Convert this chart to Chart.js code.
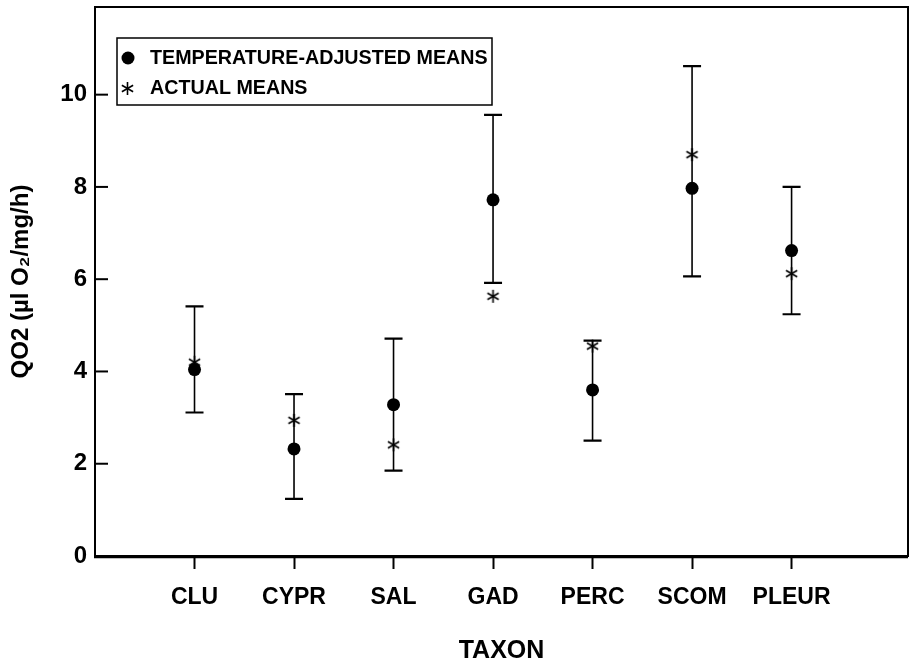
<!DOCTYPE html>
<html lang="en">
<head>
<meta charset="UTF-8" />
<title>QO2 by taxon</title>
<script src="https://cdn.jsdelivr.net/npm/chart.js"></script>
<style>
    html, body { margin: 0; padding: 0; background: #fff; }
    .chart-box { width: 910px; height: 663px; position: relative; }
</style>
</head>
<body>
<div class="chart-box">
    <canvas id="qo2Chart"></canvas>
</div>
<script>
// taxa along the x axis
const taxa = ['CLU', 'CYPR', 'SAL', 'GAD', 'PERC', 'SCOM', 'PLEUR'];
// temperature-adjusted means with their error bar limits
const adjustedMeans = [4.04, 2.32, 3.28, 7.72, 3.60, 7.97, 6.62];
const barLow  = [3.11, 1.24, 1.85, 5.92, 2.50, 6.06, 5.24];
const barHigh = [5.41, 3.51, 4.71, 9.56, 4.67, 10.62, 8.00];
// raw (actual) means
const actualMeans = [4.20, 2.94, 2.41, 5.63, 4.55, 8.70, 6.12];
const yTicks = [0, 2, 4, 6, 8, 10];

const FONT = '"Liberation Sans", Arial, Helvetica, sans-serif';

// six-armed asterisk used for the actual means
function makeAsterisk(size, lw) {
    const c = document.createElement('canvas');
    c.width = size; c.height = size;
    const g = c.getContext('2d');
    const r = size / 2 - 1;
    g.strokeStyle = '#000';
    g.lineWidth = lw;
    g.translate(size / 2, size / 2);
    [90, 30, 150].forEach(a => {
        const t = a * Math.PI / 180;
        g.beginPath();
        g.moveTo(-r * Math.cos(t), -r * Math.sin(t));
        g.lineTo(r * Math.cos(t), r * Math.sin(t));
        g.stroke();
    });
    return c;
}
const asterisk = makeAsterisk(15, 1.6);

const points = (vals) => vals.map((v, i) => ({ x: i + 1, y: v }));

const errorBars = {
    id: 'errorBars',
    beforeDatasetsDraw(chart) {
        const { ctx, scales: { x, y } } = chart;
        ctx.save();
        ctx.strokeStyle = '#000';
        taxa.forEach((_, i) => {
            const px = x.getPixelForValue(i + 1);
            const lo = y.getPixelForValue(barLow[i]);
            const hi = y.getPixelForValue(barHigh[i]);
            ctx.lineWidth = 1.6;
            ctx.beginPath();
            ctx.moveTo(px, lo); ctx.lineTo(px, hi);
            ctx.stroke();
            ctx.lineWidth = 2.2;
            ctx.beginPath();
            ctx.moveTo(px - 9, lo); ctx.lineTo(px + 9, lo);
            ctx.moveTo(px - 9, hi); ctx.lineTo(px + 9, hi);
            ctx.stroke();
        });
        ctx.restore();
    }
};

const frame = {
    id: 'frame',
    afterDraw(chart) {
        const { ctx, chartArea: a, scales: { y } } = chart;
        ctx.save();
        ctx.strokeStyle = '#000';
        ctx.lineWidth = 2;
        ctx.strokeRect(a.left, a.top, a.right - a.left, a.bottom - a.top);
        ctx.lineWidth = 2.6;
        ctx.beginPath();
        ctx.moveTo(a.left - 1, a.bottom + 1); ctx.lineTo(a.right, a.bottom + 1);
        ctx.stroke();
        // y ticks point inward
        ctx.lineWidth = 2;
        yTicks.forEach(v => {
            const py = y.getPixelForValue(v);
            ctx.beginPath();
            ctx.moveTo(a.left, py); ctx.lineTo(a.left + 13, py);
            ctx.stroke();
        });

        // legend box
        const bx = 117, by = 38, bw = 375, bh = 67;
        ctx.lineWidth = 1.5;
        ctx.strokeRect(bx, by, bw, bh);
        ctx.fillStyle = '#000';
        ctx.font = 'bold 19.7px ' + FONT;
        ctx.textBaseline = 'middle';
        const ds = chart.data.datasets;
        ctx.beginPath();
        ctx.arc(bx + 11, by + 20, 6.5, 0, Math.PI * 2);
        ctx.fill();
        ctx.fillText(ds[0].label, bx + 33, by + 21);
        ctx.drawImage(asterisk, bx + 3, by + 43);
        ctx.fillText(ds[1].label, bx + 33, by + 51);
        ctx.restore();
    }
};

new Chart(document.getElementById('qo2Chart'), {
    type: 'scatter',
    data: {
        datasets: [{
            label: 'TEMPERATURE-ADJUSTED MEANS',
            data: points(adjustedMeans),
            pointStyle: 'circle',
            pointRadius: 6.5,
            backgroundColor: '#000',
            borderColor: '#000',
            borderWidth: 0,
            order: 1
        }, {
            label: 'ACTUAL MEANS',
            data: points(actualMeans),
            pointStyle: asterisk,
            pointRadius: 7,
            order: 0
        }]
    },
    options: {
        responsive: true,
        maintainAspectRatio: false,
        animation: false,
        layout: { autoPadding: false, padding: { top: 7, right: 2, left: 0, bottom: 0 } },
        plugins: {
            legend: { display: false },
            tooltip: { enabled: false }
        },
        scales: {
            x: {
                type: 'linear',
                min: 0,
                max: 8.17,
                afterBuildTicks: s => { s.ticks = taxa.map((_, i) => ({ value: i + 1 })); },
                afterFit: s => { s.height = 107; s.paddingLeft = 0; s.paddingRight = 0; },
                border: { display: false },
                grid: {
                    drawOnChartArea: false,
                    tickLength: 13,
                    tickWidth: 2,
                    tickColor: '#000'
                },
                ticks: {
                    color: '#000',
                    padding: 15,
                    maxRotation: 0,
                    autoSkip: false,
                    font: { family: FONT, size: 23, weight: 'bold' },
                    callback: v => taxa[v - 1]
                },
                title: {
                    display: true,
                    text: 'TAXON',
                    color: '#000',
                    padding: { top: 0, bottom: 0 },
                    font: { family: FONT, size: 25, weight: 'bold', lineHeight: 0.95 }
                }
            },
            y: {
                min: 0,
                max: 11.9,
                afterBuildTicks: s => { s.ticks = yTicks.map(v => ({ value: v })); },
                afterFit: s => { s.width = 95; s.paddingTop = 0; s.paddingBottom = 0; },
                border: { display: false },
                grid: { drawOnChartArea: false, drawTicks: false },
                ticks: {
                    color: '#000',
                    padding: 8,
                    font: { family: FONT, size: 24, weight: 'bold' }
                },
                title: {
                    display: true,
                    text: 'QO2 (µl O₂/mg/h)',
                    color: '#000',
                    padding: { top: 7, bottom: 0 },
                    font: { family: FONT, size: 24, weight: 'bold' }
                }
            }
        }
    },
    plugins: [errorBars, frame]
});
</script>
</body>
</html>
